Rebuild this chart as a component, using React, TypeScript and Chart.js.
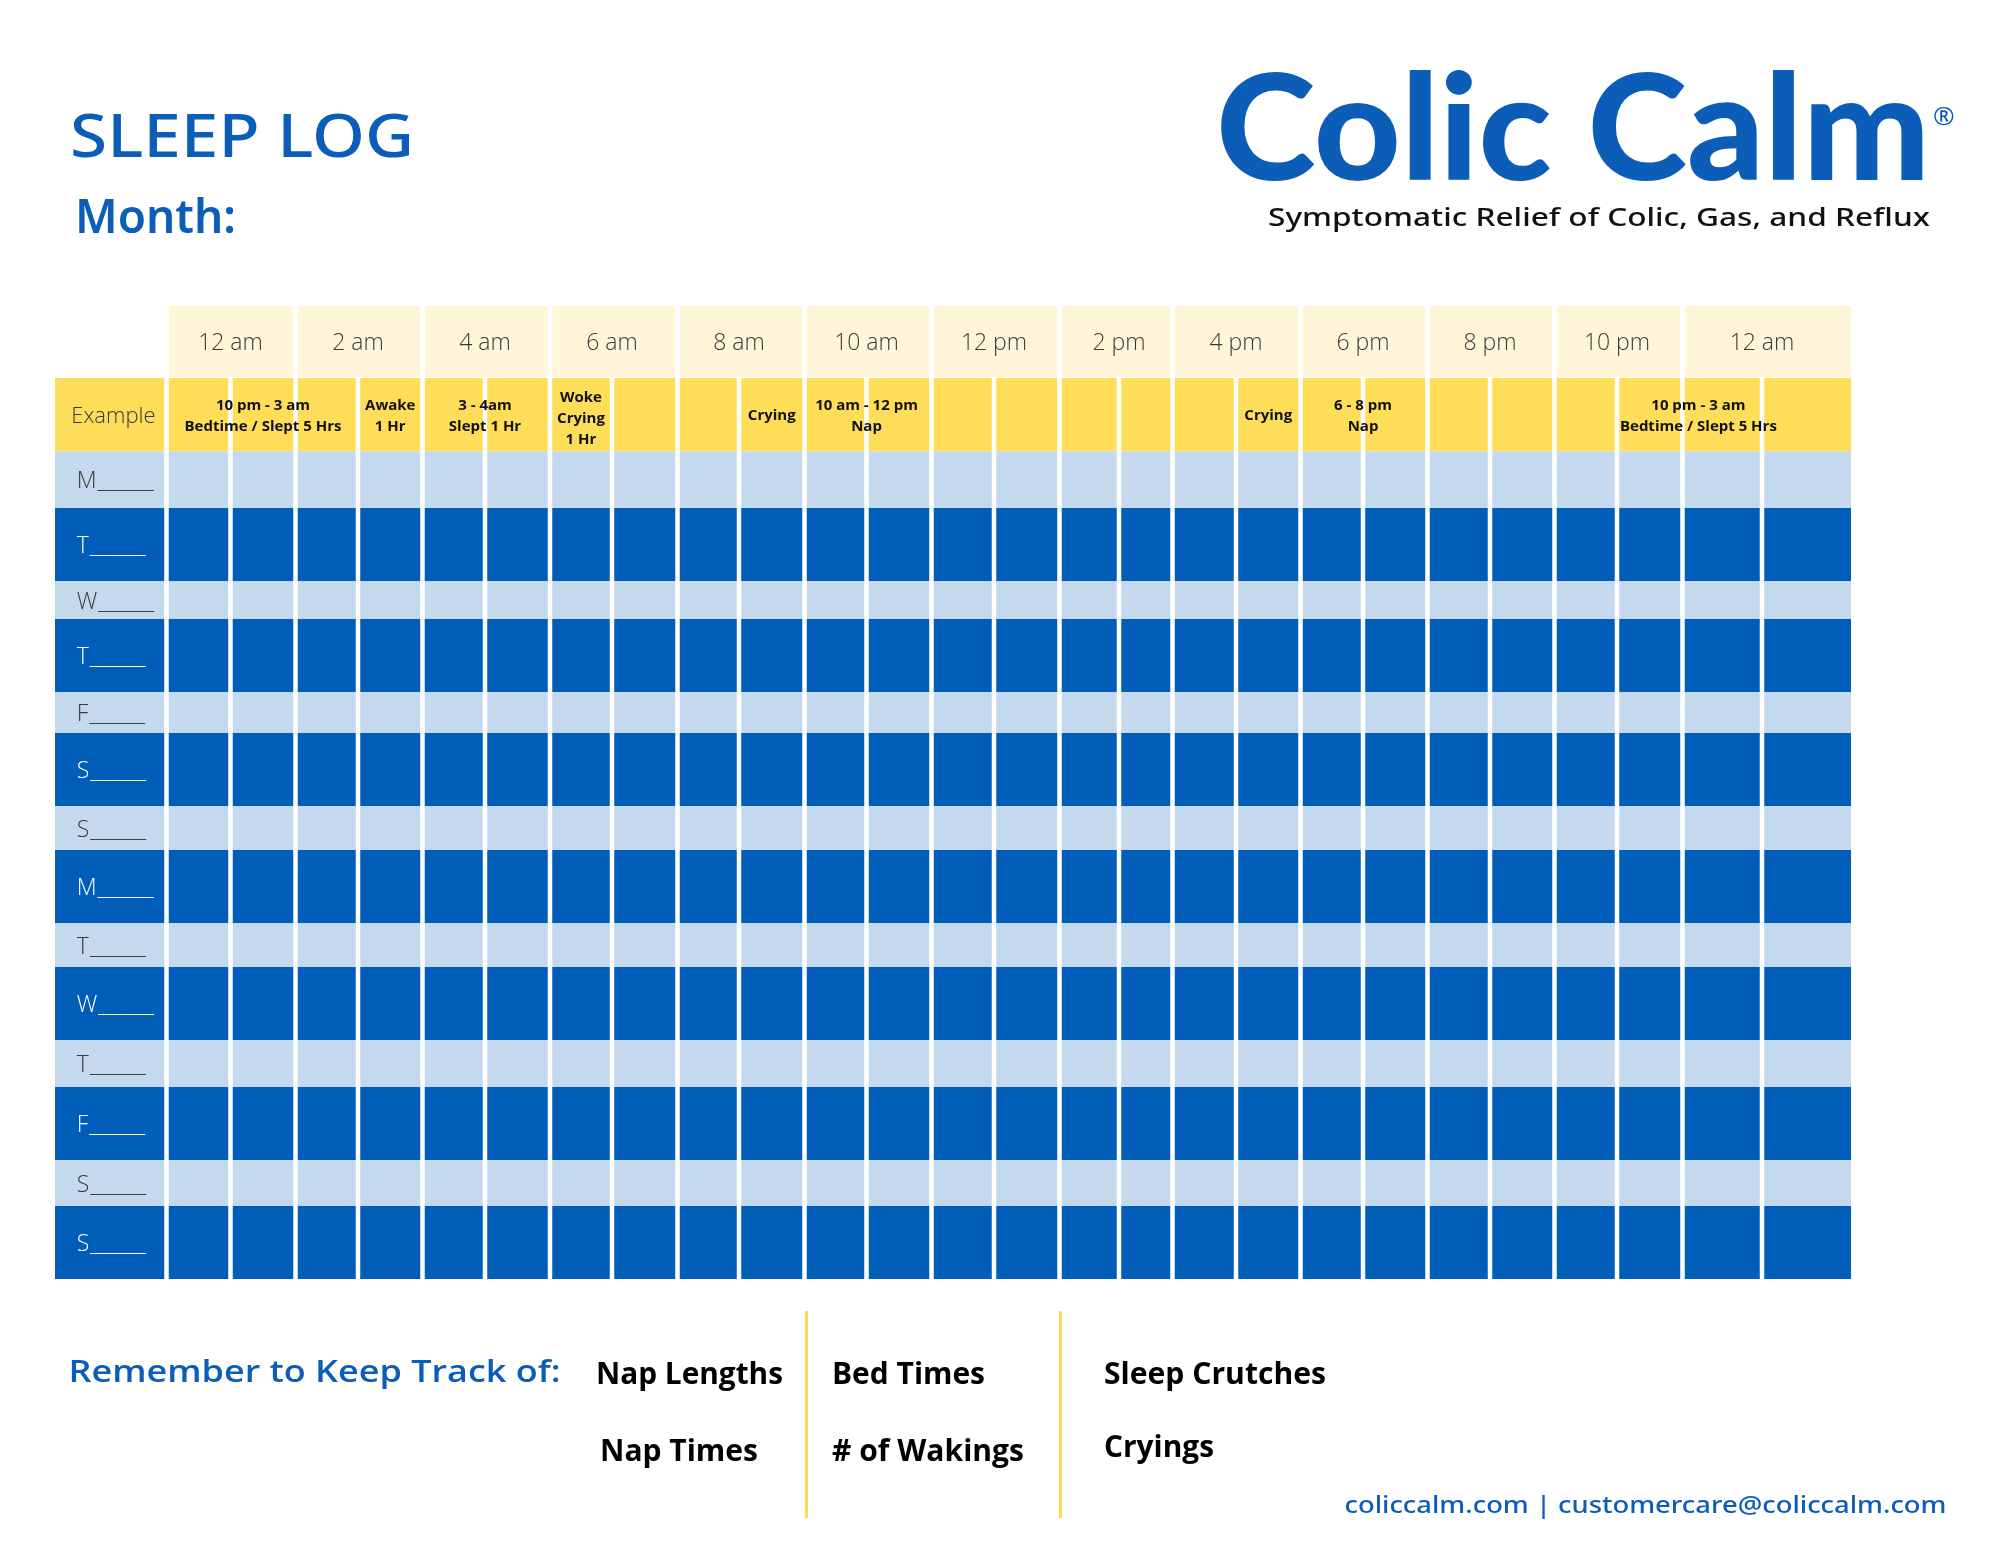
import React, { useEffect, useRef } from 'react';
import { Chart, LinearScale, registerables } from 'chart.js';

Chart.register(...registerables);

// ---------------- data ----------------
const timeLabels = ['12 am', '2 am', '4 am', '6 am', '8 am', '10 am', '12 pm', '2 pm', '4 pm', '6 pm', '8 pm', '10 pm', '12 am'];
const dayLabels = ['M', 'T', 'W', 'T', 'F', 'S', 'S', 'M', 'T', 'W', 'T', 'F', 'S', 'S'];
const exampleLabel = 'Example';
const exampleNoteHours = [1.5, 3.5, 5, 6.5, 9.5, 11, 17.5, 19, 24.2];
const exampleNoteLines = [
  ['10 pm - 3 am', 'Bedtime / Slept 5 Hrs'],
  ['Awake', '1 Hr'],
  ['3 - 4am', 'Slept 1 Hr'],
  ['Woke', 'Crying', '1 Hr'],
  ['Crying'],
  ['10 am - 12 pm', 'Nap'],
  ['Crying'],
  ['6 - 8 pm', 'Nap'],
  ['10 pm - 3 am', 'Bedtime / Slept 5 Hrs'],
];
const trackTitle = 'Remember to Keep Track of:';
const trackCol1 = ['Nap Lengths', 'Nap Times'];
const trackCol2 = ['Bed Times', '# of Wakings'];
const trackCol3 = ['Sleep Crutches', 'Cryings'];

// ---------------- layout (band sizes for the scales) ----------------
// x: first band = day-label column, then one band per hour slot (26)
const COLUMN_BANDS = [
  113.75, 64, 65, 62.5, 64.5, 62.5, 65, 62, 65.5, 61.5, 65.5, 62, 65, 62.5, 65.5,
  59.5, 53.5, 63.5, 64.5, 62.5, 64.5, 62.5, 64.5, 62.5, 65.5, 79.5, 91.25,
];
// y: header, example, then 14 day rows
const ROW_BANDS = [72, 73.5, 56.5, 73, 38, 73, 41, 73, 44, 73, 44, 73, 47, 73, 46, 73];

const CREAM = '#FFF6D9';
const YELLOW = '#FEDD58';
const LIGHT = '#C5D9EE';
const DARK = '#005EB8';
const BRAND = '#0B5DB8';
const GOLD = '#FCD95A';
const INK = '#3a3a3a';

// ---------------- custom band scale ----------------
class BandScale extends LinearScale {
  static id = 'band';
  static defaults = { ...(LinearScale as any).defaults };
  getPixelForValue(value: number) {
    const bands: number[] = Array.from((this.options as any).bands || []) as number[];
    const n = bands.length;
    const total = bands.reduce((a, b) => a + b, 0);
    const v = value - (this.min as number);
    let acc = 0;
    if (v <= 0) acc = v * bands[0];
    else if (v >= n) acc = total + (v - n) * bands[n - 1];
    else {
      const i = Math.floor(v);
      for (let k = 0; k < i; k++) acc += bands[k];
      acc += (v - i) * bands[i];
    }
    return this.getPixelForDecimal(acc / total);
  }
}
Chart.register(BandScale as any);

function drawText(
  ctx: CanvasRenderingContext2D,
  str: string,
  x: number,
  y: number,
  font: string,
  color: string,
  align: CanvasTextAlign = 'left',
  fitWidth?: number
) {
  ctx.save();
  ctx.font = font;
  ctx.fillStyle = color;
  ctx.textBaseline = 'alphabetic';
  ctx.textAlign = align;
  ctx.translate(x, y);
  if (fitWidth) {
    const w = ctx.measureText(str).width;
    if (w > 0) ctx.scale(fitWidth / w, 1);
  }
  ctx.fillText(str, 0, 0);
  ctx.restore();
}

const HALF_GAP = 2.25;

const sleepLogPlugin = {
  id: 'sleepLog',
  beforeDatasetsDraw(chart: any) {
    const { ctx } = chart;
    const x = chart.scales.x;
    const y = chart.scales.y;
    const cell = (x0: number, x1: number, r0: number, r1: number, color: string, insetBottom = 0) => {
      const px0 = x.getPixelForValue(x0) + HALF_GAP;
      const px1 = x.getPixelForValue(x1) - HALF_GAP;
      const py0 = y.getPixelForValue(r0);
      const py1 = y.getPixelForValue(r1) - insetBottom;
      ctx.fillStyle = color;
      ctx.fillRect(px0, py0, px1 - px0, py1 - py0);
    };
    ctx.save();
    // header cells (each time label spans two hour slots)
    timeLabels.forEach((_, i) => cell(i * 2, i * 2 + 2, 0, 1, CREAM, 1));
    // example row
    cell(-1, 0, 1, 2, YELLOW);
    for (let h = 0; h < timeLabels.length * 2; h++) cell(h, h + 1, 1, 2, YELLOW);
    // day rows
    dayLabels.forEach((_, d) => {
      const color = d % 2 === 0 ? LIGHT : DARK;
      const r = d + 2;
      cell(-1, 0, r, r + 1, color);
      for (let h = 0; h < timeLabels.length * 2; h++) cell(h, h + 1, r, r + 1, color);
    });
    ctx.restore();
  },
  afterDraw(chart: any) {
    const { ctx } = chart;
    const x = chart.scales.x;
    const y = chart.scales.y;

    // header labels
    timeLabels.forEach((t, i) => {
      drawText(ctx, t, x.getPixelForValue(i * 2 + 1), y.getPixelForValue(0.5) + 8.2, '300 23px "Open Sans"', INK, 'center');
    });
    // example label
    const labelLeft = x.getPixelForValue(-1);
    drawText(ctx, exampleLabel, labelLeft + 18.5, y.getPixelForValue(1.5) + 8, '300 22px "Open Sans"', INK, 'left');
    // example notes
    exampleNoteHours.forEach((hour, i) => {
      const lines = exampleNoteLines[i];
      const cx = x.getPixelForValue(hour);
      const cy = y.getPixelForValue(1.5);
      const lh = 21;
      lines.forEach((ln, j) => {
        const by = cy + (j - (lines.length - 1) / 2) * lh + 5.6 + (lines.length === 3 ? 3 : 0);
        drawText(ctx, ln, cx, by, 'bold 15px "Open Sans"', '#111111', 'center');
      });
    });
    // day labels: letter followed by a writing line of underscores
    const dayFont = '300 23px "Open Sans"';
    dayLabels.forEach((d, i) => {
      const color = i % 2 === 0 ? INK : '#FFFFFF';
      const lx = labelLeft + 24;
      const by = y.getPixelForValue(i + 2.5) + 8.5;
      drawText(ctx, d, lx, by, dayFont, color, 'left');
      ctx.save();
      ctx.font = dayFont;
      const lw = ctx.measureText(d).width;
      ctx.restore();
      drawText(ctx, '_____', lx + lw + 1, by, dayFont, color, 'left', 56);
    });

    // ---- page texts ----
    drawText(ctx, 'SLEEP LOG', 70, 157, '500 60px "Noto Sans"', BRAND, 'left', 344);
    drawText(ctx, 'Month:', 75, 233, '600 46px "Noto Sans"', BRAND, 'left', 161);
    drawText(ctx, 'Colic Calm', 1216, 180, '900 147px Lato', BRAND, 'left', 714);
    drawText(ctx, '®', 1933, 125, '400 26px "Noto Sans"', BRAND, 'left');
    drawText(ctx, 'Symptomatic Relief of Colic, Gas, and Reflux', 1268, 226, '500 26px "Noto Sans"', '#111111', 'left', 662);

    drawText(ctx, trackTitle, 68.5, 1382, '600 31px "Open Sans"', BRAND, 'left', 492);
    const itemFont = 'bold 30px "Open Sans"';
    drawText(ctx, trackCol1[0], 596, 1384, itemFont, '#000000', 'left', 187);
    drawText(ctx, trackCol1[1], 600, 1461, itemFont, '#000000', 'left', 158);
    drawText(ctx, trackCol2[0], 832, 1384, itemFont, '#000000', 'left', 153);
    drawText(ctx, trackCol2[1], 832, 1461, itemFont, '#000000', 'left', 192);
    drawText(ctx, trackCol3[0], 1104, 1384, itemFont, '#000000', 'left', 222);
    drawText(ctx, trackCol3[1], 1104, 1457, itemFont, '#000000', 'left', 110);

    ctx.save();
    ctx.fillStyle = GOLD;
    ctx.fillRect(805, 1311, 3, 207);
    ctx.fillRect(1059, 1311, 3, 207);
    ctx.restore();

    drawText(ctx, 'coliccalm.com | customercare@coliccalm.com', 1344.5, 1513, '500 24px "Noto Sans"', BRAND, 'left', 602);
  },
};

export default function App() {
  const ref = useRef<HTMLCanvasElement | null>(null);
  useEffect(() => {
    if (!ref.current) return;
    const chart = new Chart(ref.current, {
      type: 'bar',
      data: { datasets: [] },
      options: {
        animation: false,
        responsive: false,
        devicePixelRatio: 1,
        events: [],
        layout: { padding: { left: 52.75, right: 146.75, top: 306, bottom: 266 } },
        plugins: { legend: { display: false }, tooltip: { enabled: false }, title: { display: false } },
        scales: {
          x: { type: 'band', min: -1, max: 26, bounds: 'data', bands: COLUMN_BANDS, display: false, grid: { display: false } } as any,
          y: { type: 'band', min: 0, max: 16, bounds: 'data', bands: ROW_BANDS, reverse: true, display: false, grid: { display: false } } as any,
        },
      },
      plugins: [sleepLogPlugin],
    });
    return () => chart.destroy();
  }, []);
  return (
    <div style={{ position: 'absolute', left: 0, top: 0, width: 2000, height: 1545, background: '#ffffff' }}>
      <canvas ref={ref} width={2000} height={1545} style={{ display: 'block', width: 2000, height: 1545 }} />
    </div>
  );
}
